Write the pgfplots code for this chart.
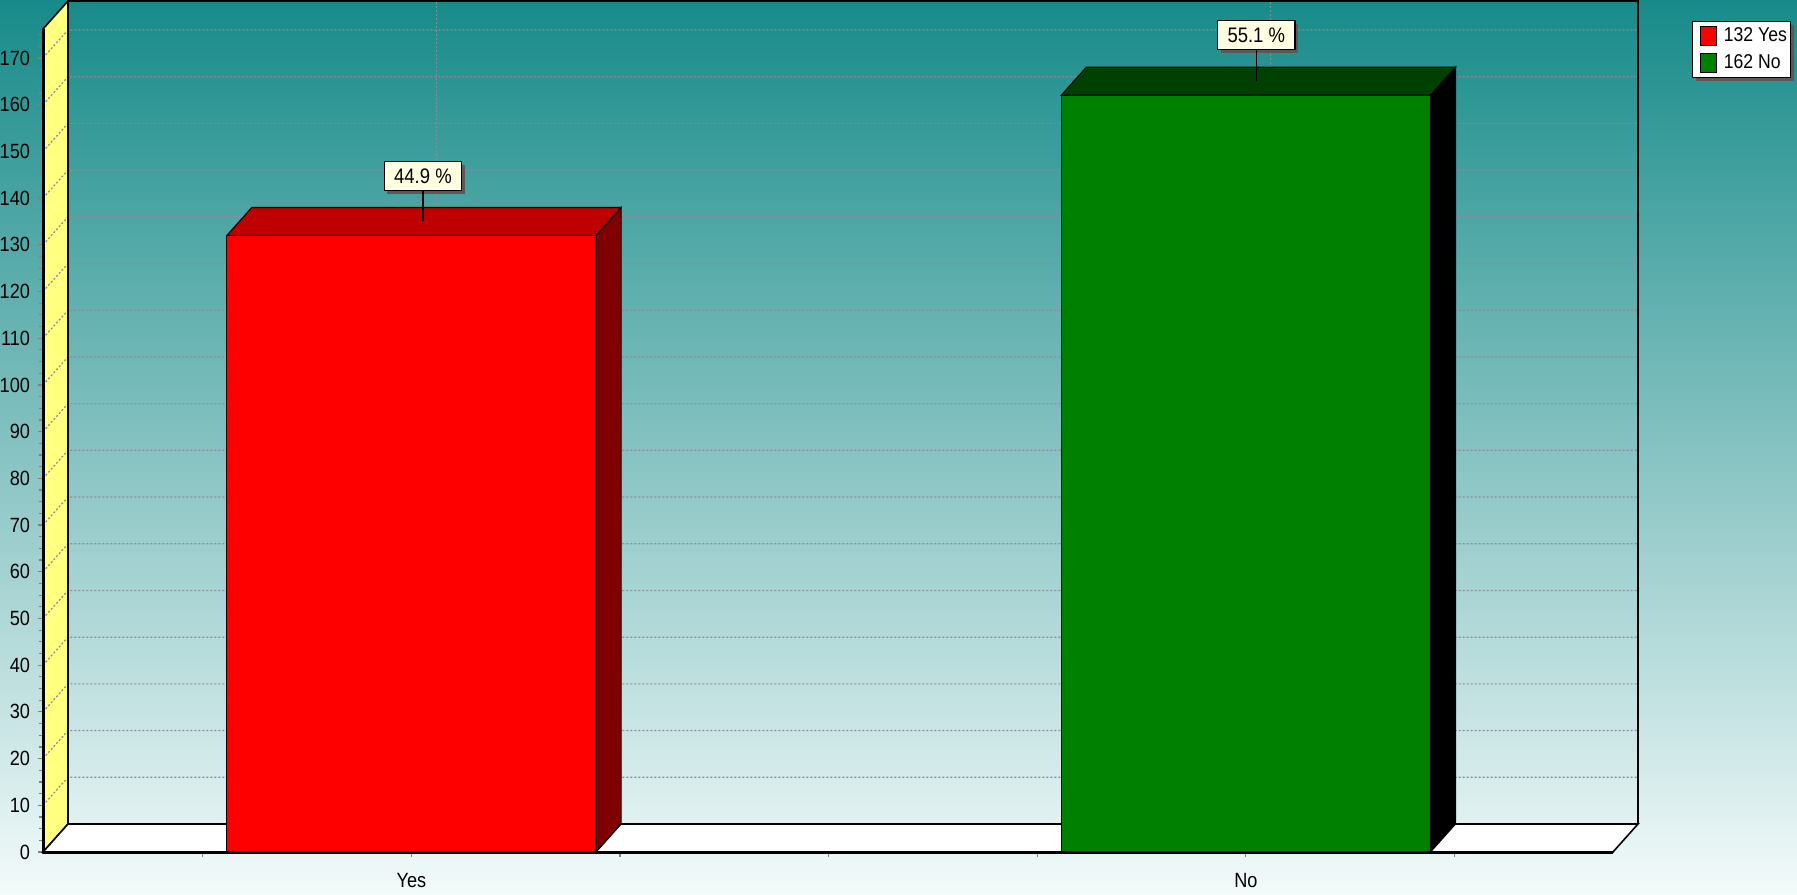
\documentclass[border=0pt]{standalone}
\usepackage{pgfplots}
\usepackage{pgfplotstable}
\pgfplotsset{compat=1.18}
\usepackage{fontspec}
\setmainfont[FakeStretch=0.88]{Liberation Sans}
\usetikzlibrary{shadows}
\makeatletter
\tikzset{noshadow/.code={\def\tikz@preactions{}}}
\makeatother
\definecolor{bgtop}{RGB}{23,139,137}
\definecolor{bgbot}{RGB}{243,250,250}
\definecolor{wall}{RGB}{255,255,128}
\definecolor{gridc}{RGB}{140,140,150}
\definecolor{cream}{RGB}{255,255,225}
\definecolor{redfront}{RGB}{255,0,0}
\definecolor{redtop}{RGB}{192,0,0}
\definecolor{redside}{RGB}{128,0,0}
\definecolor{greenfront}{RGB}{0,128,0}
\definecolor{greentop}{RGB}{0,64,0}
\definecolor{greenside}{RGB}{0,0,0}

\pgfplotstableread{
x y
1 132
}\yesdata
\pgfplotstableread{
x y
5 162
}\nodata

\begin{document}
\begin{tikzpicture}
\fill[top color=bgtop, bottom color=bgbot] (0,0) rectangle (898.5pt,447pt);
\begin{axis}[
  at={(21.5pt,21pt)}, anchor=south west,
  scale only axis, width=797.5pt, height=425.5pt,
  xmin=-0.7665, xmax=6.88, ymin=0, ymax=182.2,
  clip=false,
  axis x line*=bottom, axis y line*=left,
  axis line style={draw=none,-},
  xtick={0,...,6}, xticklabels={,Yes,,,,No,},
  ytick={0,10,...,170}, minor ytick={2.5,5,...,175},
  tick align=outside, major tick length=2.5pt, minor tick length=2pt,
  tick style={gray, line width=0.6pt},
  ticklabel style={font=\fontsize{10.3}{12}\selectfont},
  yticklabel style={xshift=-0.5pt},
  xticklabel style={yshift=-4.5pt},
  /pgf/number format/assume math mode=true,
  legend cell align=left,
  legend style={at={(1.0339,0.9765)}, anchor=north west, draw=black, line width=0.6pt, fill=white,
    drop shadow={shadow xshift=1.5pt, shadow yshift=-1.5pt, fill=gray!70!black, opacity=1},
    font=\fontsize{10}{12}\selectfont, inner xsep=1pt, inner ysep=1pt, row sep=1pt,
    nodes={inner xsep=1pt}},
]
% left wall
\addplot[fill=wall, draw=black, line width=0.8pt, forget plot] coordinates {(-0.7665,0) (-0.6465,6) (-0.6465,182.2) (-0.7665,176.2)} --cycle;
% grid lines
\pgfplotsinvokeforeach{10,20,...,170}{
  \draw[gridc, dash pattern=on 1pt off 1pt, line width=0.6pt] (axis cs:-0.7665,#1) -- ([yshift=14pt]axis cs:-0.6465,#1) -- ([yshift=14pt]axis cs:6.88,#1);
}
\draw[gridc, dash pattern=on 1pt off 1pt, line width=0.6pt] (axis cs:1.12,6) -- (axis cs:1.12,182.2);
\draw[gridc, dash pattern=on 1pt off 1pt, line width=0.6pt] (axis cs:5.12,6) -- (axis cs:5.12,182.2);
% back wall outline
\draw[black, line width=0.8pt] (axis cs:-0.6465,6) -- (axis cs:-0.6465,182.2) -- (axis cs:6.88,182.2) -- (axis cs:6.88,6);
% front axis
\draw[black, line width=1.5pt] (axis cs:-0.7665,0) -- (axis cs:-0.7665,176.2);
% floor
\addplot[fill=white, draw=black, line width=0.8pt, forget plot] coordinates {(-0.7665,0) (6.76,0) (6.88,6) (-0.6465,6)} --cycle;
% Yes bar
\addplot[fill=redside, draw=black, line width=0.6pt, forget plot] coordinates {(1.885,0) (2.005,6) (2.005,138) (1.885,132)} --cycle;
\addplot[fill=redtop, draw=black, line width=0.6pt, forget plot] coordinates {(0.115,132) (1.885,132) (2.005,138) (0.235,138)} --cycle;
\addplot[ybar, bar width=1.77, bar shift=0pt, fill=redfront, draw=black, line width=0.6pt, forget plot] table[x=x,y=y] {\yesdata};
% No bar
\addplot[fill=greenside, draw=black, line width=0.6pt, forget plot] coordinates {(5.885,0) (6.005,6) (6.005,168) (5.885,162)} --cycle;
\addplot[fill=greentop, draw=black, line width=0.6pt, forget plot] coordinates {(4.115,162) (5.885,162) (6.005,168) (4.235,168)} --cycle;
\addplot[ybar, bar width=1.77, bar shift=0pt, fill=greenfront, draw=black, line width=0.6pt, forget plot] table[x=x,y=y] {\nodata};
\draw[black, line width=1.5pt] (axis cs:-0.7665,0) -- (axis cs:6.76,0);
% labels
\node[draw=black, line width=0.6pt, fill=cream, drop shadow={shadow xshift=1.5pt, shadow yshift=-1.5pt, fill=gray!70!black, opacity=1}, inner xsep=5pt, inner ysep=0pt, minimum height=14.5pt, font=\fontsize{10.5}{12}\selectfont] (lblY) at (axis cs:1.055,144.7) {44.9 \%};
\draw[black, line width=0.6pt] (lblY.south) -- (axis cs:1.055,135);
\node[draw=black, line width=0.6pt, fill=cream, drop shadow={shadow xshift=1.5pt, shadow yshift=-1.5pt, fill=gray!70!black, opacity=1}, inner xsep=5pt, inner ysep=0pt, minimum height=14.5pt, font=\fontsize{10.5}{12}\selectfont] (lblN) at (axis cs:5.05,174.9) {55.1 \%};
\draw[black, line width=0.6pt] (lblN.south) -- (axis cs:5.05,165);
% legend
\addlegendimage{legend image code/.code={\path (-2.5pt,0) (10.5pt,0); \draw[noshadow, fill=redfront, draw=black, line width=0.6pt] (0pt,-4.7pt) rectangle (8pt,4.7pt);}}
\addlegendentry{132 Yes}
\addlegendimage{legend image code/.code={\path (-2.5pt,0) (10.5pt,0); \draw[noshadow, fill=greenfront, draw=black, line width=0.6pt] (0pt,-4.7pt) rectangle (8pt,4.7pt);}}
\addlegendentry{162 No}
\end{axis}
\pgfresetboundingbox
\useasboundingbox (0,0) rectangle (898.5pt,447pt);
\end{tikzpicture}
\end{document}
